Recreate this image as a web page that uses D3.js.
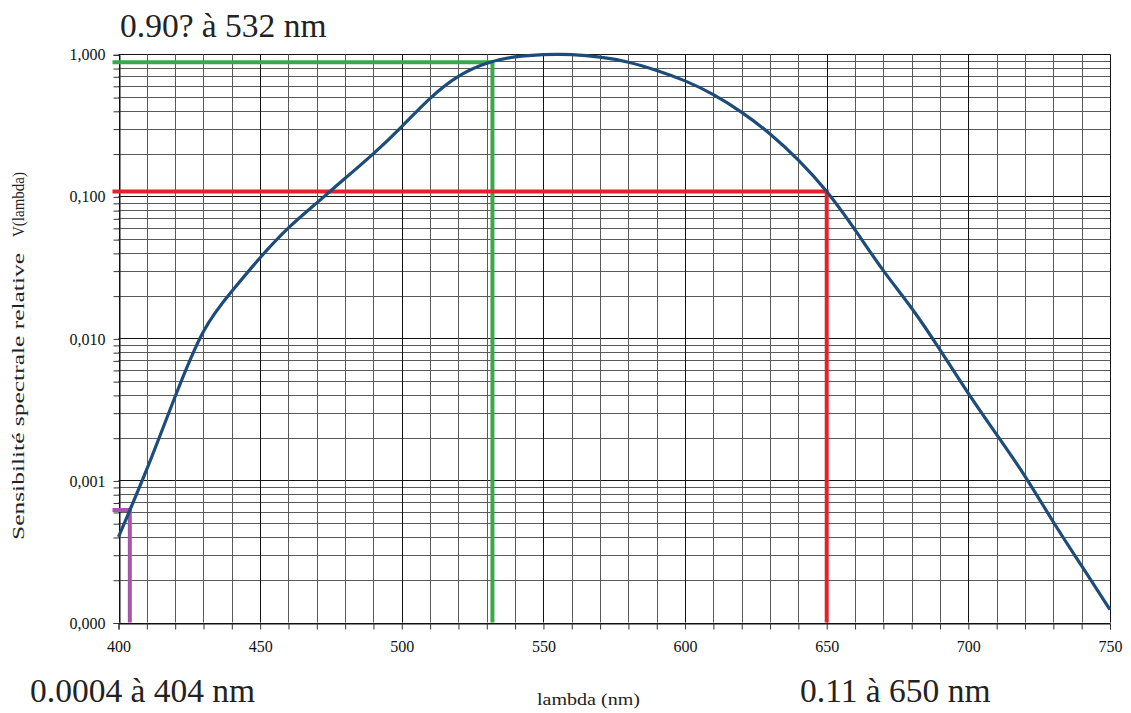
<!DOCTYPE html>
<html>
<head>
<meta charset="utf-8">
<script src="https://cdn.jsdelivr.net/npm/d3@7"></script>
<style>
  body { margin: 0; background: #fff; }
  svg text { font-family: "Liberation Serif", "Times New Roman", Tinos, "DejaVu Serif", serif; }
</style>
</head>
<body>
<script>
// wavelengths (nm) and relative spectral sensitivity V(lambda)
var wavelengths = [400, 410, 420, 430, 440, 450, 460, 470, 480, 490, 500, 510, 520, 530, 540, 550, 555, 560, 570, 580, 590, 600, 610, 620, 630, 640, 650, 660, 670, 680, 690, 700, 710, 720, 730, 740, 750];
var sensitivity = [0.0004, 0.0012, 0.0039, 0.0112, 0.0215, 0.037, 0.060, 0.090, 0.134, 0.200, 0.31, 0.49, 0.70, 0.865, 0.958, 0.995, 1.0, 0.995, 0.955, 0.88, 0.77, 0.65, 0.52, 0.39, 0.275, 0.18, 0.108, 0.058, 0.030, 0.0163, 0.0083, 0.0041, 0.0021, 0.00107, 0.00051, 0.00025, 0.000123];

// reading lines drawn on the chart
var markNm = [532, 650, 404];
var markValue = [0.88, 0.108, 0.00062];
var markColor = ["#3aaa48", "#e2232b", "#a656a8"];

var xTicks = [400, 450, 500, 550, 600, 650, 700, 750];
var yTicks = [1, 0.1, 0.01, 0.001, 0.0001];
var yTickLabels = ["1,000", "0,100", "0,010", "0,001", "0,000"];

var serif = "'Liberation Serif', 'Times New Roman', Tinos, 'DejaVu Serif', serif";

var width = 1131, height = 713;
var margin = {left: 118.5, right: 21, top: 54.3, bottom: 90.5};

var svg = d3.select("body").append("svg")
    .attr("width", width).attr("height", height);

var x = d3.scaleLinear()
    .domain([400, 750])
    .range([margin.left, width - margin.right]);

var y = d3.scaleLog()
    .domain([0.0001, 1])
    .range([height - margin.bottom, margin.top]);

// grid values: every 10 nm, and 1..9 per decade
var xGrid = d3.range(400, 751, 10);
var yGrid = [];
[0.0001, 0.001, 0.01, 0.1].forEach(function(d){
    for (var k = 1; k <= 9; k++) yGrid.push(+(d * k).toPrecision(3));
});
yGrid.push(1);

var grid = svg.append("g");

grid.selectAll("line.h").data(yGrid).enter().append("line")
    .attr("x1", x(400)).attr("x2", x(750))
    .attr("y1", function(d){ return Math.round(y(d)) + 0.5; })
    .attr("y2", function(d){ return Math.round(y(d)) + 0.5; })
    .attr("stroke", function(d){ return yTicks.indexOf(d) >= 0 ? "#111" : "#5a5a5a"; })
    .attr("stroke-width", 1);

grid.selectAll("line.v").data(xGrid).enter().append("line")
    .attr("y1", y(1)).attr("y2", y(0.0001))
    .attr("x1", function(d){ return Math.round(x(d)) + 0.5; })
    .attr("x2", function(d){ return Math.round(x(d)) + 0.5; })
    .attr("stroke", function(d){ return d % 50 === 0 ? "#111" : "#5a5a5a"; })
    .attr("stroke-width", 1);

// axes
var yAxis = d3.axisLeft(y)
    .tickValues(yGrid)
    .tickSize(6)
    .tickPadding(8)
    .tickFormat(function(d){
        var i = yTicks.indexOf(d);
        return i >= 0 ? yTickLabels[i] : "";
    });

var xAxis = d3.axisBottom(x)
    .tickValues(xGrid)
    .tickSize(6)
    .tickPadding(11)
    .tickFormat(function(d){ return xTicks.indexOf(d) >= 0 ? d : ""; });

var gy = svg.append("g")
    .attr("transform", "translate(" + (Math.round(x(400)) + 0.5) + ",0.5)")
    .call(yAxis);
var gx = svg.append("g")
    .attr("transform", "translate(0," + (Math.round(y(0.0001)) + 0.5) + ")")
    .call(xAxis);

[gx, gy].forEach(function(g){
    g.attr("font-family", serif);
    g.select(".domain").attr("stroke", "#111");
    g.selectAll(".tick line").attr("stroke", "#333");
    g.selectAll(".tick text")
        .attr("font-family", serif)
        .attr("font-size", 16)
        .attr("fill", "#111");
});

// reading lines
markNm.forEach(function(nm, i){
    var pts = [[x(400) - 6, y(markValue[i])], [x(nm), y(markValue[i])], [x(nm), y(0.0001)]];
    svg.append("path")
        .attr("d", d3.line()(pts))
        .attr("fill", "none")
        .attr("stroke", markColor[i])
        .attr("stroke-width", 4);
});

// sensitivity curve
var line = d3.line()
    .x(function(d, i){ return x(wavelengths[i]); })
    .y(function(d){ return y(d); })
    .curve(d3.curveNatural);

svg.append("path")
    .attr("d", line(sensitivity))
    .attr("fill", "none")
    .attr("stroke", "#1d4c7a")
    .attr("stroke-width", 3.2)
    .attr("stroke-linejoin", "round");

// annotations
svg.append("text")
    .attr("x", 120).attr("y", 37)
    .attr("font-family", serif)
    .attr("font-size", 33.5).attr("fill", "#222")
    .text("0.90? à 532 nm");

svg.append("text")
    .attr("x", 30).attr("y", 702)
    .attr("font-family", serif)
    .attr("font-size", 33.5).attr("fill", "#222")
    .text("0.0004 à 404 nm");

svg.append("text")
    .attr("x", 800).attr("y", 702)
    .attr("font-family", serif)
    .attr("font-size", 33.5).attr("fill", "#222")
    .text("0.11 à 650 nm");

svg.append("text")
    .attr("x", 537).attr("y", 705)
    .attr("font-family", serif)
    .attr("font-size", 17).attr("fill", "#222")
    .attr("textLength", 103).attr("lengthAdjust", "spacingAndGlyphs")
    .text("lambda (nm)");

// y axis title
var yTitle = svg.append("g").attr("transform", "translate(24,0) rotate(-90)");
yTitle.append("text")
    .attr("x", -540).attr("y", 0)
    .attr("font-family", serif)
    .attr("font-size", 17).attr("fill", "#222")
    .attr("textLength", 287).attr("lengthAdjust", "spacingAndGlyphs")
    .text("Sensibilité spectrale relative");
yTitle.append("text")
    .attr("x", -237).attr("y", 0)
    .attr("font-family", serif)
    .attr("font-size", 17).attr("fill", "#222")
    .attr("textLength", 65).attr("lengthAdjust", "spacingAndGlyphs")
    .text("V(lambda)");
</script>
</body>
</html>
